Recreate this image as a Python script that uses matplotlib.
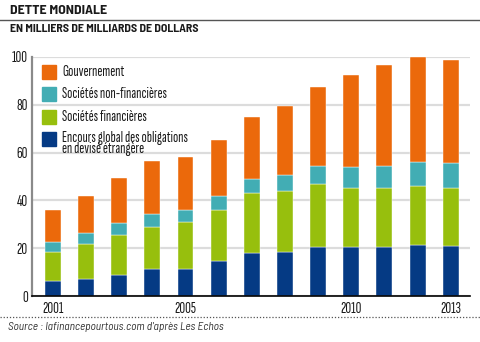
import matplotlib
matplotlib.use("Agg")
import matplotlib.pyplot as plt
from matplotlib.patches import Rectangle
from matplotlib.lines import Line2D

COND = ['Sofia Sans Extra Condensed', 'Barlow Condensed', 'DejaVu Sans']
SEMI = ['Barlow Semi Condensed', 'DejaVu Sans']
plt.rcParams['font.family'] = COND

years = [2001, 2002, 2003, 2004, 2005, 2006, 2007, 2008, 2009, 2010, 2011, 2012, 2013]
# thousands of billions of dollars, per layer
obligations = [6.3, 7.1, 8.8, 11.2, 11.2, 14.5, 17.9, 18.3, 20.6, 20.6, 20.6, 21.5, 21.0]
financieres = [12.2, 14.5, 16.7, 17.8, 19.8, 21.6, 25.1, 25.6, 26.4, 24.7, 24.7, 24.5, 24.0]
non_financieres = [4.2, 4.6, 4.9, 5.3, 5.0, 5.7, 5.8, 6.7, 7.5, 8.5, 9.2, 10.2, 10.5]
gouvernement = [13.3, 15.6, 18.8, 22.3, 22.0, 23.6, 26.2, 29.0, 33.1, 38.7, 42.0, 43.9, 43.2]

labels = ["Gouvernement", "Sociétés non-financières", "Sociétés financières",
          "Encours global des obligations\nen devisé étrangère"]
colors = ["#EB690B", "#42ADB4", "#97BF0D", "#053A84"]
yticks = [0, 20, 40, 60, 80, 100]
xticks = [2001, 2005, 2010, 2013]

fig = plt.figure(figsize=(4.8, 3.42), dpi=100)
ax = fig.add_axes([32 / 480, 1 - 296 / 342, 438 / 480, 239 / 342])

series = [obligations, financieres, non_financieres, gouvernement]
series_colors = [colors[3], colors[2], colors[1], colors[0]]
bottom = [0.0] * len(years)
for vals, col in zip(series, series_colors):
    ax.bar(years, vals, bottom=bottom, width=0.48, color=col,
           edgecolor="#ffffff", linewidth=0.3, zorder=3, clip_on=False)
    bottom = [b + v for b, v in zip(bottom, vals)]

ax.set_xlim(2000.37, 2013.58)
ax.set_ylim(0, 100)
ax.set_yticks(yticks)
ax.set_xticks(xticks)
ax.yaxis.grid(True, color="#dcdcdc", linewidth=1.6, zorder=0)
ax.set_axisbelow(True)
for s in ["top", "right"]:
    ax.spines[s].set_visible(False)
ax.spines["left"].set_color("#8a8a8a")
ax.spines["left"].set_linewidth(1.6)
ax.spines["bottom"].set_color("#000000")
ax.spines["bottom"].set_linewidth(1.2)
ax.spines["bottom"].set_zorder(5)
ax.tick_params(axis="y", length=0, pad=3, labelsize=11.5, labelcolor="#1a1a1a")
ax.tick_params(axis="x", length=0, pad=4, labelsize=11.5, labelcolor="#1a1a1a")
for t in ax.get_xticklabels() + ax.get_yticklabels():
    t.set_fontweight("medium")

# legend drawn as swatches and texts in figure pixels
H = 342.0
rows = [72.3, 94.3, 116.7, 139.0]
for yc, lab, col in zip(rows, labels, colors):
    fig.patches.append(Rectangle((41.7 / 480, 1 - (yc + 7) / H), 14 / 480, 14 / H,
                                 transform=fig.transFigure, color=col))
    multi = "\n" in lab
    ty = yc - 8 if multi else yc
    fig.text(62 / 480, 1 - ty / H, lab, fontsize=11, va="top" if multi else "center",
             ha="left", color="#1a1a1a", linespacing=0.75)

# header
fig.text(10 / 480, 1 - 11 / H, "DETTE MONDIALE", fontsize=10, fontweight="bold",
         family=SEMI, va="center", ha="left", color="#1a1a1a")
fig.lines.append(Line2D([0, 1], [1 - 19.5 / H] * 2, transform=fig.transFigure,
                        color="#555555", linewidth=1.0))
fig.text(10 / 480, 1 - 29 / H, "EN MILLIERS DE MILLIARDS DE DOLLARS", fontsize=8.5,
         fontweight="bold", family=SEMI, va="center", ha="left", color="#1a1a1a")

# footer
fig.lines.append(Line2D([0, 1], [1 - 316.7 / H] * 2, transform=fig.transFigure,
                        color="#555555", linewidth=0.9, linestyle=(0, (1, 1.5))))
fig.text(8 / 480, 1 - 326.5 / H, "Source : lafinancepourtous.com d'après Les Echos",
         fontsize=8.2, style="italic", family=SEMI, va="center", ha="left", color="#333333")

fig.savefig("out.png", dpi=100)
